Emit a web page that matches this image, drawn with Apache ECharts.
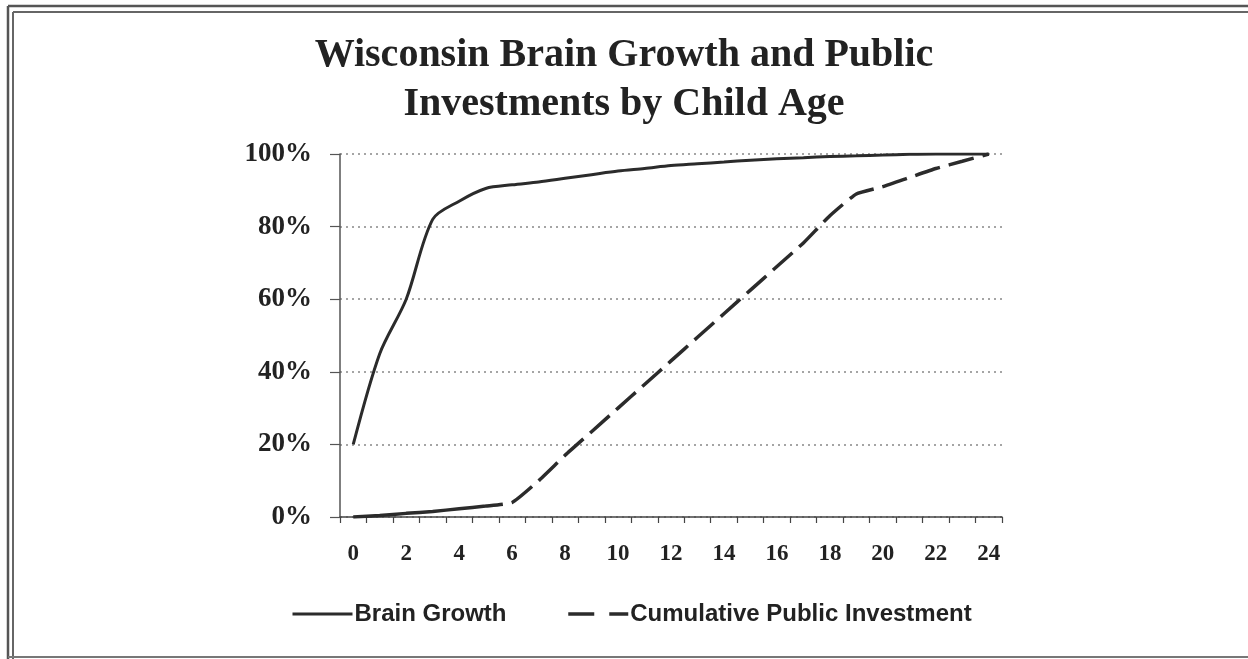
<!DOCTYPE html>
<html>
<head>
<meta charset="utf-8">
<script src="https://cdn.jsdelivr.net/npm/echarts@6/dist/echarts.min.js"></script>
<style>
html,body{margin:0;padding:0;background:#fff;}
#chart{width:1248px;height:659px;}
</style>
</head>
<body>
<div id="chart"></div>
<script>
// ---- data ----
var ages = ['0','1','2','3','4','5','6','7','8','9','10','11','12','13','14','15','16','17','18','19','20','21','22','23','24'];
var brainGrowth = [20, 45, 60, 82, 87, 90.5, 91.5, 92.3, 93.3, 94.3, 95.3, 96, 96.8, 97.3, 97.8, 98.3, 98.7, 99, 99.3, 99.5, 99.7, 99.9, 100, 100, 100];
var publicInvestment = [0, 0.4, 1, 1.5, 2.3, 3, 4, 10, 17, 23.5, 30, 36.5, 43, 49.5, 56, 62.5, 69, 75.5, 83, 89, 91, 93.5, 96, 98, 100];
var yTicks = [0, 20, 40, 60, 80, 100];
var seriesNames = ['Brain Growth', 'Cumulative Public Investment'];
var titleLines = ['Wisconsin Brain Growth and Public', 'Investments by Child Age'];

// dash pattern for the investment line (first long segment, then regular dashes)
var invDash = [150, 9];
for (var k = 0; k < 30; k++) { invDash.push(26, 9); }

var chart = echarts.init(document.getElementById('chart'), null, {renderer: 'canvas'});
var lineColor = '#2b2b2b';
var option = {
  backgroundColor: '#ffffff',
  animation: false,
  title: {
    text: titleLines.join('\n'),
    left: 'center',
    top: 26,
    textStyle: {
      fontFamily: 'Liberation Serif',
      fontWeight: 'bold',
      fontSize: 40,
      lineHeight: 49,
      color: '#222'
    }
  },
  legend: {
    left: 286,
    top: 597,
    itemWidth: 60,
    itemHeight: 24,
    itemGap: 60,
    textStyle: {
      fontFamily: 'Liberation Sans',
      fontWeight: 'bold',
      fontSize: 24,
      color: '#222',
      padding: [0, 0, 0, -3]
    },
    data: [
      {name: seriesNames[0], itemStyle: {opacity: 0}, lineStyle: {color: lineColor, width: 3, type: 'solid', opacity: 1}},
      {name: seriesNames[1], itemStyle: {opacity: 0}, lineStyle: {color: lineColor, width: 3.5, type: [26, 15], opacity: 1}}
    ]
  },
  grid: {left: 340, right: 246, top: 154, bottom: 142, containLabel: false},
  xAxis: {
    type: 'category',
    data: ages,
    boundaryGap: true,
    axisLine: {show: true, lineStyle: {color: '#444', width: 1.5}},
    axisTick: {show: true, interval: 0, length: 6, lineStyle: {color: '#444', width: 1.2}},
    axisLabel: {
      interval: 1,
      margin: 26,
      fontFamily: 'Liberation Serif',
      fontWeight: 'bold',
      fontSize: 23,
      color: '#222'
    },
    splitLine: {show: false}
  },
  yAxis: {
    type: 'value',
    min: yTicks[0],
    max: yTicks[yTicks.length - 1],
    interval: 20,
    axisLine: {show: true, lineStyle: {color: '#555', width: 1.5}},
    axisTick: {show: true, length: 10, lineStyle: {color: '#555', width: 1.2}},
    axisLabel: {
      formatter: '{value}%',
      margin: 28,
      fontFamily: 'Liberation Serif',
      fontWeight: 'bold',
      fontSize: 27,
      color: '#222'
    },
    splitLine: {show: true, lineStyle: {color: '#888', width: 1.5, type: [2, 4]}}
  },
  series: [
    {
      name: seriesNames[0],
      type: 'line',
      data: brainGrowth,
      symbol: 'none',
      smooth: 0.3,
      lineStyle: {color: lineColor, width: 3},
      itemStyle: {color: lineColor}
    },
    {
      name: seriesNames[1],
      type: 'line',
      data: publicInvestment,
      symbol: 'none',
      smooth: 0.15,
      lineStyle: {color: lineColor, width: 3.5, type: invDash},
      itemStyle: {color: lineColor}
    }
  ],
  graphic: [
    {type: 'line', shape: {x1: 8, y1: 6, x2: 8, y2: 659}, style: {stroke: '#555', lineWidth: 2.5}, silent: true},
    {type: 'line', shape: {x1: 13, y1: 12, x2: 13, y2: 659}, style: {stroke: '#666', lineWidth: 2}, silent: true},
    {type: 'line', shape: {x1: 8, y1: 6, x2: 1248, y2: 6}, style: {stroke: '#555', lineWidth: 2.5}, silent: true},
    {type: 'line', shape: {x1: 13, y1: 12, x2: 1248, y2: 12}, style: {stroke: '#666', lineWidth: 2}, silent: true},
    {type: 'line', shape: {x1: 8, y1: 657, x2: 1248, y2: 657}, style: {stroke: '#777', lineWidth: 2}, silent: true}
  ]
};
chart.setOption(option);
</script>
</body>
</html>
